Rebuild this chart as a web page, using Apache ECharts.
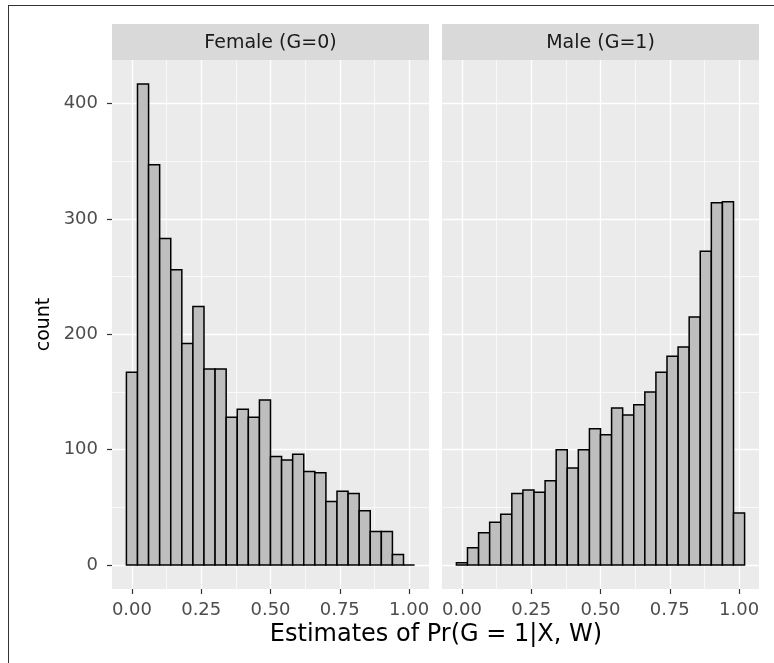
<!DOCTYPE html>
<html>
<head>
<meta charset="utf-8">
<title>Estimates of Pr(G = 1|X, W)</title>
<script src="https://cdn.jsdelivr.net/npm/echarts@6/dist/echarts.min.js"></script>
<style>
  html, body { margin: 0; padding: 0; background: #fff; }
  #main { width: 774px; height: 663px; }
</style>
</head>
<body>
<div id="main"></div>
<script>
// histogram bins (centre of each bin, width 0.04)
var binCenters = [0.00, 0.04, 0.08, 0.12, 0.16, 0.20, 0.24, 0.28, 0.32, 0.36, 0.40, 0.44, 0.48,
                  0.52, 0.56, 0.60, 0.64, 0.68, 0.72, 0.76, 0.80, 0.84, 0.88, 0.92, 0.96, 1.00];
var femaleCounts = [167, 417, 347, 283, 256, 192, 224, 170, 170, 128, 135, 128, 143,
                    94, 91, 96, 81, 80, 55, 64, 62, 47, 29, 29, 9, 0];
var maleCounts = [2, 15, 28, 37, 44, 62, 65, 63, 73, 100, 84, 100, 118,
                  113, 136, 130, 139, 150, 167, 181, 189, 215, 272, 314, 315, 45];
var panelNames = ['Female (G=0)', 'Male (G=1)'];
var xTicks = [0, 0.25, 0.5, 0.75, 1];
var xTickLabels = ['0.00', '0.25', '0.50', '0.75', '1.00'];
var xMinor = [0.125, 0.375, 0.625, 0.875];
var yTicks = [0, 100, 200, 300, 400];
var yMinor = [50, 150, 250, 350];
var binWidth = 0.04;

var FONT = 'DejaVu Sans';
var xMin = -0.072, xMax = 1.072;
var yMin = -20.85, yMax = 437.85;

function pairs(counts) {
    var out = [];
    for (var i = 0; i < binCenters.length; i++) {
        out.push([binCenters[i], counts[i]]);
    }
    return out;
}

function renderBin(params, api) {
    var x = api.value(0);
    var y = api.value(1);
    var p0 = api.coord([x - binWidth / 2, y]);
    var p1 = api.coord([x + binWidth / 2, 0]);
    return {
        type: 'rect',
        shape: { x: p0[0], y: p0[1], width: p1[0] - p0[0], height: p1[1] - p0[1] },
        style: { fill: '#BEBEBE', stroke: '#000', lineWidth: 1.5 }
    };
}

function majorX(grid, showLabels) {
    return {
        type: 'value', gridIndex: grid, min: xMin, max: xMax, position: 'bottom',
        axisLine: { show: false, onZero: false },
        axisTick: { show: true, length: 5, customValues: xTicks, lineStyle: { color: '#333', width: 1.2 } },
        axisLabel: {
            show: showLabels, customValues: xTicks, margin: 12,
            color: '#4D4D4D', fontSize: 18, fontFamily: FONT,
            formatter: function (v) { return xTickLabels[xTicks.indexOf(v)]; }
        },
        splitLine: { show: true, lineStyle: { color: '#fff', width: 1.3 } }
    };
}
function minorX(grid) {
    return {
        type: 'value', gridIndex: grid, min: xMin, max: xMax,
        axisLine: { show: false, onZero: false },
        axisTick: { show: false, customValues: xMinor },
        axisLabel: { show: false, customValues: xMinor },
        splitLine: { show: true, lineStyle: { color: '#fff', width: 0.7 } }
    };
}
function majorY(grid, showLabels) {
    return {
        type: 'value', gridIndex: grid, min: yMin, max: yMax, position: 'left',
        name: showLabels ? 'count' : '',
        nameLocation: 'middle', nameGap: 58,
        nameTextStyle: { color: '#000', fontSize: 19, fontFamily: FONT },
        axisLine: { show: false, onZero: false },
        axisTick: { show: showLabels, length: 5, customValues: yTicks, lineStyle: { color: '#333', width: 1.2 } },
        axisLabel: {
            show: showLabels, customValues: yTicks, margin: 14,
            color: '#4D4D4D', fontSize: 18, fontFamily: FONT
        },
        splitLine: { show: true, lineStyle: { color: '#fff', width: 1.3 } }
    };
}
function minorY(grid) {
    return {
        type: 'value', gridIndex: grid, min: yMin, max: yMax,
        axisLine: { show: false, onZero: false },
        axisTick: { show: false, customValues: yMinor },
        axisLabel: { show: false, customValues: yMinor },
        splitLine: { show: true, lineStyle: { color: '#fff', width: 0.7 } }
    };
}

var chart = echarts.init(document.getElementById('main'));
chart.setOption({
    backgroundColor: '#fff',
    animation: false,
    textStyle: { fontFamily: FONT },
    grid: [
        { left: 112, top: 60, width: 317, height: 529, show: true, backgroundColor: '#EBEBEB', borderWidth: 0 },
        { left: 442, top: 60, width: 317, height: 529, show: true, backgroundColor: '#EBEBEB', borderWidth: 0 }
    ],
    xAxis: [majorX(0, true), majorX(1, true), minorX(0), minorX(1)],
    yAxis: [majorY(0, true), majorY(1, false), minorY(0), minorY(1)],
    series: [
        { name: panelNames[0], type: 'custom', xAxisIndex: 0, yAxisIndex: 0, z: 5,
          renderItem: renderBin, encode: { x: 0, y: 1 }, data: pairs(femaleCounts) },
        { name: panelNames[1], type: 'custom', xAxisIndex: 1, yAxisIndex: 1, z: 5,
          renderItem: renderBin, encode: { x: 0, y: 1 }, data: pairs(maleCounts) }
    ],
    graphic: [
        { type: 'line', shape: { x1: 8, y1: 5.5, x2: 774, y2: 5.5 }, style: { stroke: '#333', lineWidth: 1 } },
        { type: 'line', shape: { x1: 8.5, y1: 5, x2: 8.5, y2: 663 }, style: { stroke: '#333', lineWidth: 1 } },
        { type: 'rect', shape: { x: 112, y: 24, width: 317, height: 36 }, style: { fill: '#D9D9D9' } },
        { type: 'rect', shape: { x: 442, y: 24, width: 317, height: 36 }, style: { fill: '#D9D9D9' } },
        { type: 'text', x: 270.5, y: 43, style: { text: panelNames[0], fill: '#1A1A1A', font: '19px "DejaVu Sans"', align: 'center', verticalAlign: 'middle' } },
        { type: 'text', x: 600.5, y: 43, style: { text: panelNames[1], fill: '#1A1A1A', font: '19px "DejaVu Sans"', align: 'center', verticalAlign: 'middle' } },
        { type: 'text', x: 436, y: 635, style: { text: 'Estimates of Pr(G = 1|X, W)', fill: '#000', font: '24px "DejaVu Sans"', align: 'center', verticalAlign: 'middle' } }
    ]
});
</script>
</body>
</html>
